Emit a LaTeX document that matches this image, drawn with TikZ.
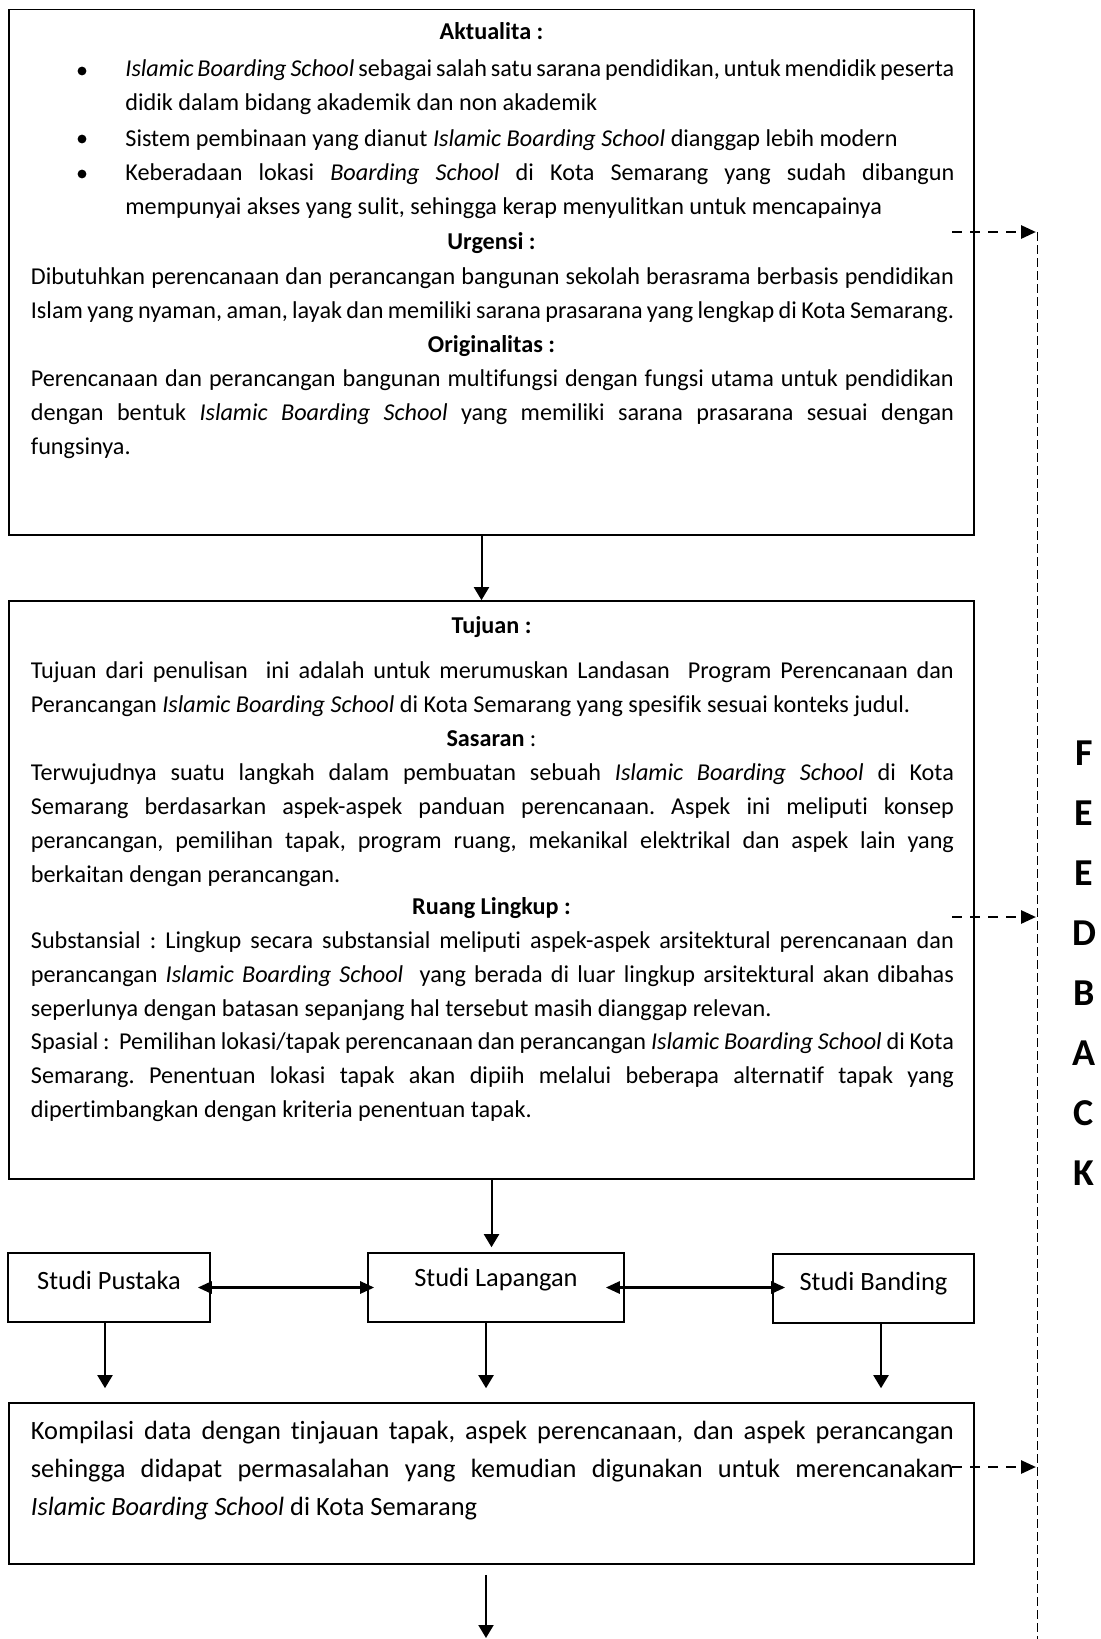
\documentclass[tikz,border=0pt]{standalone}
\usepackage{fontspec}
\setmainfont{Carlito}[Ligatures=NoCommon]
\usetikzlibrary{arrows.meta}
\hyphenpenalty=10000
\exhyphenpenalty=10000
\tolerance=10000
\frenchspacing

\tikzset{
  kotak/.style={draw, line width=0.8pt, rectangle, inner sep=0pt},
  isi/.style={inner sep=0pt, align=justify, anchor=base west, font=\fontsize{12.1}{17}\selectfont},
  judul/.style={inner sep=0pt, anchor=base, font=\fontsize{12.1}{17}\selectfont\bfseries},
  titik/.style={circle, fill, inner sep=0pt, minimum size=4.4pt},
  panah/.style={line width=1pt, -{Triangle[length=6.5pt, width=7.5pt]}},
  panahdua/.style={line width=1.35pt, {Triangle[length=7pt, width=6pt]}-{Triangle[length=7pt, width=6pt]}},
  balik/.style={line width=1.4pt, dash pattern=on 4.75pt off 4.25pt, -{Triangle[length=7.5pt, width=6.5pt]}},
  garisbalik/.style={line width=0.5pt, dash pattern=on 4.5pt off 2pt},
  huruf/.style={inner sep=0pt, font=\fontsize{19}{22}\selectfont\bfseries},
  studi/.style={kotak, minimum height=34.5pt, font=\fontsize{13.2}{16}\selectfont, text depth=7pt}
}

\begin{document}
\begin{tikzpicture}[x=0.5pt, y=-0.5pt]
\useasboundingbox (0,0) rectangle (1100,1639);

\node[kotak, minimum width=482.5pt, minimum height=262.75pt] (aktual) at (491.5,272.25) {};
\node[kotak, minimum width=482.5pt, minimum height=289pt] (tujuan) at (491.5,890) {};
\node[studi, minimum width=101pt] (pustaka) at (109,1287.5) {Studi Pustaka};
\node[studi, minimum width=128pt, text depth=10pt] (lapangan) at (496,1287.5) {Studi Lapangan};
\node[studi, minimum width=100.5pt] (banding) at (873.5,1288.5) {Studi Banding};
\node[kotak, minimum width=482.5pt, minimum height=80.5pt] (kompilasi) at (491.5,1483.5) {};

\node[judul] (hAktual) at (491.5,39) {Aktualita :};
\foreach \y [count=\i] in {71,139,174}
  \node[titik] (t\i) at (82,\y) {};
\node[isi, text width=414.5pt] (pAktual1) at (125,76.5) {\textit{Islamic Boarding School} sebagai salah satu sarana pendidikan, untuk mendidik peserta\linebreak didik dalam bidang akademik dan non akademik};
\node[isi, text width=414.5pt] (pAktual2) at (125,146) {Sistem pembinaan yang dianut \textit{Islamic Boarding School} dianggap lebih modern};
\node[isi, text width=414.5pt] (pAktual3) at (125,180.5) {Keberadaan lokasi \textit{Boarding School} di Kota Semarang yang sudah dibangun\linebreak mempunyai akses yang sulit, sehingga kerap menyulitkan untuk mencapainya};
\node[judul] (hUrgensi) at (491.5,249) {Urgensi :};
\node[isi, text width=461.5pt] (pUrgensi) at (30.5,284.5) {Dibutuhkan perencanaan dan perancangan bangunan sekolah berasrama berbasis pendidikan\linebreak Islam yang nyaman, aman, layak dan memiliki sarana prasarana yang lengkap di Kota Semarang.};
\node[judul] (hOriginal) at (491.5,352) {Originalitas :};
\node[isi, text width=461.5pt] (pOriginal) at (30.5,386.5) {Perencanaan dan perancangan bangunan multifungsi dengan fungsi utama untuk pendidikan\linebreak dengan bentuk \textit{Islamic Boarding School} yang memiliki sarana prasarana sesuai dengan\linebreak fungsinya.};

\node[judul] (hTujuan) at (491.5,633) {Tujuan :};
\node[isi, text width=461.5pt] (pTujuan) at (30.5,678) {Tujuan dari penulisan\ \ ini adalah untuk merumuskan Landasan\ \ Program Perencanaan dan\linebreak Perancangan \textit{Islamic Boarding School} di Kota Semarang yang spesifik sesuai konteks judul.};
\node[judul, font=\fontsize{12.1}{17}\selectfont] (hSasaran) at (491.5,746) {\textbf{Sasaran} :};
\node[isi, text width=461.5pt] (pSasaran) at (30.5,780) {Terwujudnya suatu langkah dalam pembuatan sebuah \textit{Islamic Boarding School} di Kota\linebreak Semarang berdasarkan aspek-aspek panduan perencanaan. Aspek ini meliputi konsep\linebreak perancangan, pemilihan tapak, program ruang, mekanikal elektrikal dan aspek lain yang\linebreak berkaitan dengan perancangan.};
\node[judul] (hLingkup) at (491.5,914) {Ruang Lingkup :};
\node[isi, text width=461.5pt] (pSubstansi) at (30.5,948) {Substansial : Lingkup secara substansial meliputi aspek-aspek arsitektural perencanaan dan\linebreak perancangan \textit{Islamic Boarding School}\ \ yang berada di luar lingkup arsitektural akan dibahas\linebreak seperlunya dengan batasan sepanjang hal tersebut masih dianggap relevan.};
\node[isi, text width=461.5pt] (pSpasial) at (30.5,1049) {Spasial :\ \ Pemilihan lokasi/tapak perencanaan dan perancangan \textit{Islamic Boarding School} di Kota\linebreak Semarang. Penentuan lokasi tapak akan dipiih melalui beberapa alternatif tapak yang\linebreak dipertimbangkan dengan kriteria penentuan tapak.};

\node[isi, text width=461.5pt, font=\fontsize{13.2}{19}\selectfont] (pKompilasi) at (30.5,1439) {Kompilasi data dengan tinjauan tapak, aspek perencanaan, dan aspek perancangan\linebreak sehingga didapat permasalahan yang kemudian digunakan untuk merencanakan\linebreak \textit{Islamic Boarding School} di Kota Semarang};

\draw[panah] ([xshift=-5pt]aktual.south) -- ([xshift=-5pt]tujuan.north);
\draw[panah, shorten >=2.5pt] (tujuan.south) -- (tujuan.south |- lapangan.north);
\draw[panahdua, shorten <=-6.5pt, shorten >=-3.5pt] (pustaka.east) -- (lapangan.west);
\draw[panahdua, shorten <=-9.5pt, shorten >=-6.5pt] (lapangan.east) -- (lapangan.east -| banding.west);
\draw[panah, shorten >=7pt] ([xshift=-2pt]pustaka.south) -- ([xshift=-2pt]pustaka.south |- kompilasi.north);
\draw[panah, shorten >=7pt] ([xshift=-5pt]lapangan.south) -- ([xshift=-5pt]lapangan.south |- kompilasi.north);
\draw[panah, shorten >=7pt] ([xshift=3.75pt]banding.south) -- ([xshift=3.75pt]banding.south |- kompilasi.north);
\coordinate (akhir) at (486,1638);
\draw[panah] ([xshift=-2.75pt,yshift=-5pt]kompilasi.south) -- (akhir);

\coordinate (fbAtas) at (1037,232);
\coordinate (fbBawah) at (1037,1639);
\draw[garisbalik] (fbAtas) -- (fbBawah);
\foreach \y [count=\i] in {232,917,1467} {
  \coordinate (fa\i) at (952,\y);
  \coordinate (fb\i) at (1036,\y);
  \draw[balik] (fa\i) -- (fb\i);
}
\foreach \h [count=\i] in {F,E,E,D,B,A,C,K}
  \node[huruf] (h\i) at (1084,{753+60*(\i-1)}) {\h};
\end{tikzpicture}
\end{document}
